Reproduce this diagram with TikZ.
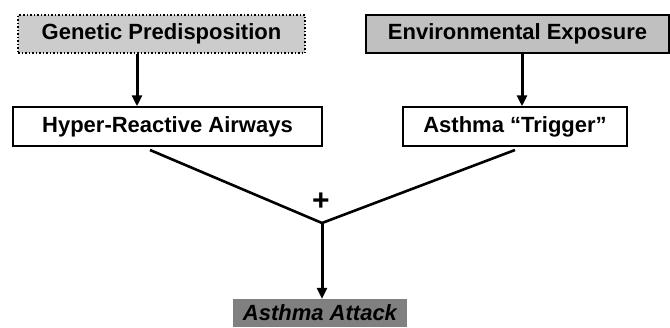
\documentclass[tikz,border=0pt]{standalone}
\usepackage{fontspec}
\setmainfont{Liberation Sans}
\usetikzlibrary{arrows.meta}
\definecolor{gpfill}{RGB}{204,204,204}
\definecolor{eefill}{RGB}{192,192,192}
\definecolor{aafill}{RGB}{128,128,128}
\begin{document}
\begin{tikzpicture}[x=1pt,y=1pt,
  box/.style={draw=black, line width=1.5pt, inner sep=0pt, font=\fontsize{22}{26}\selectfont\bfseries},
  arr/.style={line width=3pt, -{Triangle[length=11pt,width=10pt]}},
  ln/.style={line width=2.6pt}]
\useasboundingbox (0,0) rectangle (670,-327);
\node[box, fill=gpfill, dotted, minimum width=287pt, minimum height=38pt] (gp) at (161.5,-34) {Genetic Predisposition};
\node[box, fill=eefill, minimum width=303pt, minimum height=38pt] (ee) at (517.5,-34) {Environmental Exposure};
\node[box, fill=white, minimum width=309pt, minimum height=39pt] (hr) at (167.5,-126.5) {Hyper-Reactive Airways};
\node[box, fill=white, minimum width=224pt, minimum height=39pt] (at) at (515,-126.5) {Asthma ``Trigger''};
\node[fill=aafill, inner sep=0pt, minimum width=174pt, minimum height=28pt, font=\fontsize{22}{26}\selectfont\bfseries\itshape] (aa) at (320,-313) {Asthma Attack};
\node[font=\fontsize{30}{30}\selectfont\bfseries] (plus) at (321,-202) {+};
\coordinate (l1) at (150,-150);
\coordinate (r1) at (515,-150);
\coordinate (j) at (322,-223);
\draw[arr] (gp.south -| 137,0) -- (hr.north -| 137,0);
\draw[arr] (ee.south -| 522,0) -- (at.north -| 522,0);
\draw[ln] (l1) -- (j) -- (r1);
\draw[arr] (j) -- (j |- aa.north);
\end{tikzpicture}
\end{document}
